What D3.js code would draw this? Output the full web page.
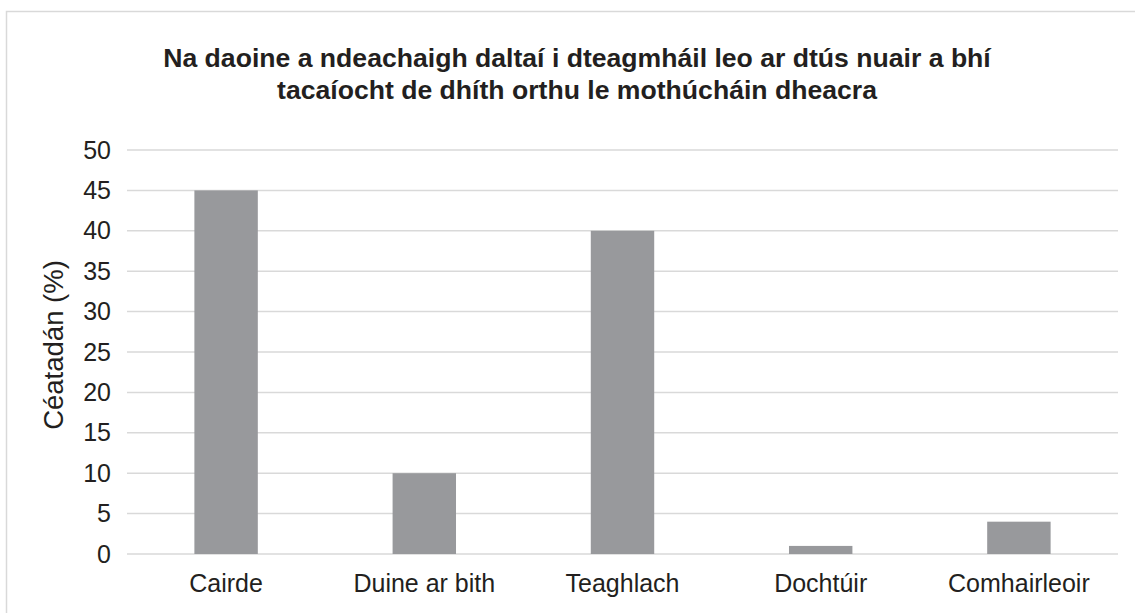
<!DOCTYPE html>
<html>
<head>
<meta charset="utf-8">
<script src="https://cdn.jsdelivr.net/npm/d3@7"></script>
<style>
  html, body { margin: 0; padding: 0; background: #fff; }
  svg { display: block; font-family: Arial, "Liberation Sans", sans-serif; }
</style>
</head>
<body>
<div id="chart"></div>
<script>
const categories = ['Cairde', 'Duine ar bith', 'Teaghlach', 'Dochtúir', 'Comhairleoir'];
const values = [45, 10, 40, 1, 4];
const yTicks = [0, 5, 10, 15, 20, 25, 30, 35, 40, 45, 50];
const titleLines = [
  'Na daoine a ndeachaigh daltaí i dteagmháil leo ar dtús nuair a bhí',
  'tacaíocht de dhíth orthu le mothúcháin dheacra'
];
const yLabel = 'Céatadán (%)';

const width = 1135;
const height = 613;
const margin = { top: 150, right: 17, bottom: 59, left: 127 };
const innerW = width - margin.left - margin.right;
const innerH = height - margin.top - margin.bottom;

const svg = d3.select('#chart')
  .append('svg')
  .attr('width', width)
  .attr('height', height);

// chart frame
svg.append('rect')
  .attr('x', 6.5)
  .attr('y', 11.5)
  .attr('width', width + 10)
  .attr('height', height + 10)
  .attr('fill', 'none')
  .attr('stroke', '#d9d9d9')
  .attr('stroke-width', 1.5);

const g = svg.append('g')
  .attr('transform', `translate(${margin.left},${margin.top})`);

const x = d3.scaleBand()
  .domain(categories)
  .range([0, innerW])
  .paddingInner(0.68)
  .paddingOuter(0.34);

const y = d3.scaleLinear()
  .domain([0, 50])
  .range([innerH, 0]);

// gridlines
g.append('g')
  .selectAll('line')
  .data(yTicks)
  .enter()
  .append('line')
  .attr('x1', 0)
  .attr('x2', innerW)
  .attr('y1', d => y(d))
  .attr('y2', d => y(d))
  .attr('stroke', '#d9d9d9')
  .attr('stroke-width', 1.5);

// bars
g.append('g')
  .selectAll('rect')
  .data(values)
  .enter()
  .append('rect')
  .attr('x', (d, i) => x(categories[i]))
  .attr('width', x.bandwidth())
  .attr('y', d => y(d))
  .attr('height', d => y(0) - y(d))
  .attr('fill', '#98999c');

// y axis
const yAxis = g.append('g')
  .call(d3.axisLeft(y).tickValues(yTicks).tickSize(0).tickPadding(16));
yAxis.select('.domain').remove();
yAxis.selectAll('text')
  .attr('fill', '#231f20')
  .style('font-size', '25px');

// x axis
const xAxis = g.append('g')
  .attr('transform', `translate(0,${innerH})`)
  .call(d3.axisBottom(x).tickSize(0).tickPadding(20));
xAxis.select('.domain').remove();
xAxis.selectAll('text')
  .attr('fill', '#231f20')
  .style('font-size', '25px');

// y label
svg.append('text')
  .attr('transform', `translate(63,345) rotate(-90)`)
  .attr('text-anchor', 'middle')
  .attr('fill', '#231f20')
  .style('font-size', '27.5px')
  .text(yLabel);

// title
svg.append('g')
  .selectAll('text')
  .data(titleLines)
  .enter()
  .append('text')
  .attr('x', 577)
  .attr('y', (d, i) => 67 + i * 32)
  .attr('text-anchor', 'middle')
  .attr('fill', '#231f20')
  .style('font-size', '26.6px')
  .style('font-weight', 'bold')
  .text(d => d);
</script>
</body>
</html>
